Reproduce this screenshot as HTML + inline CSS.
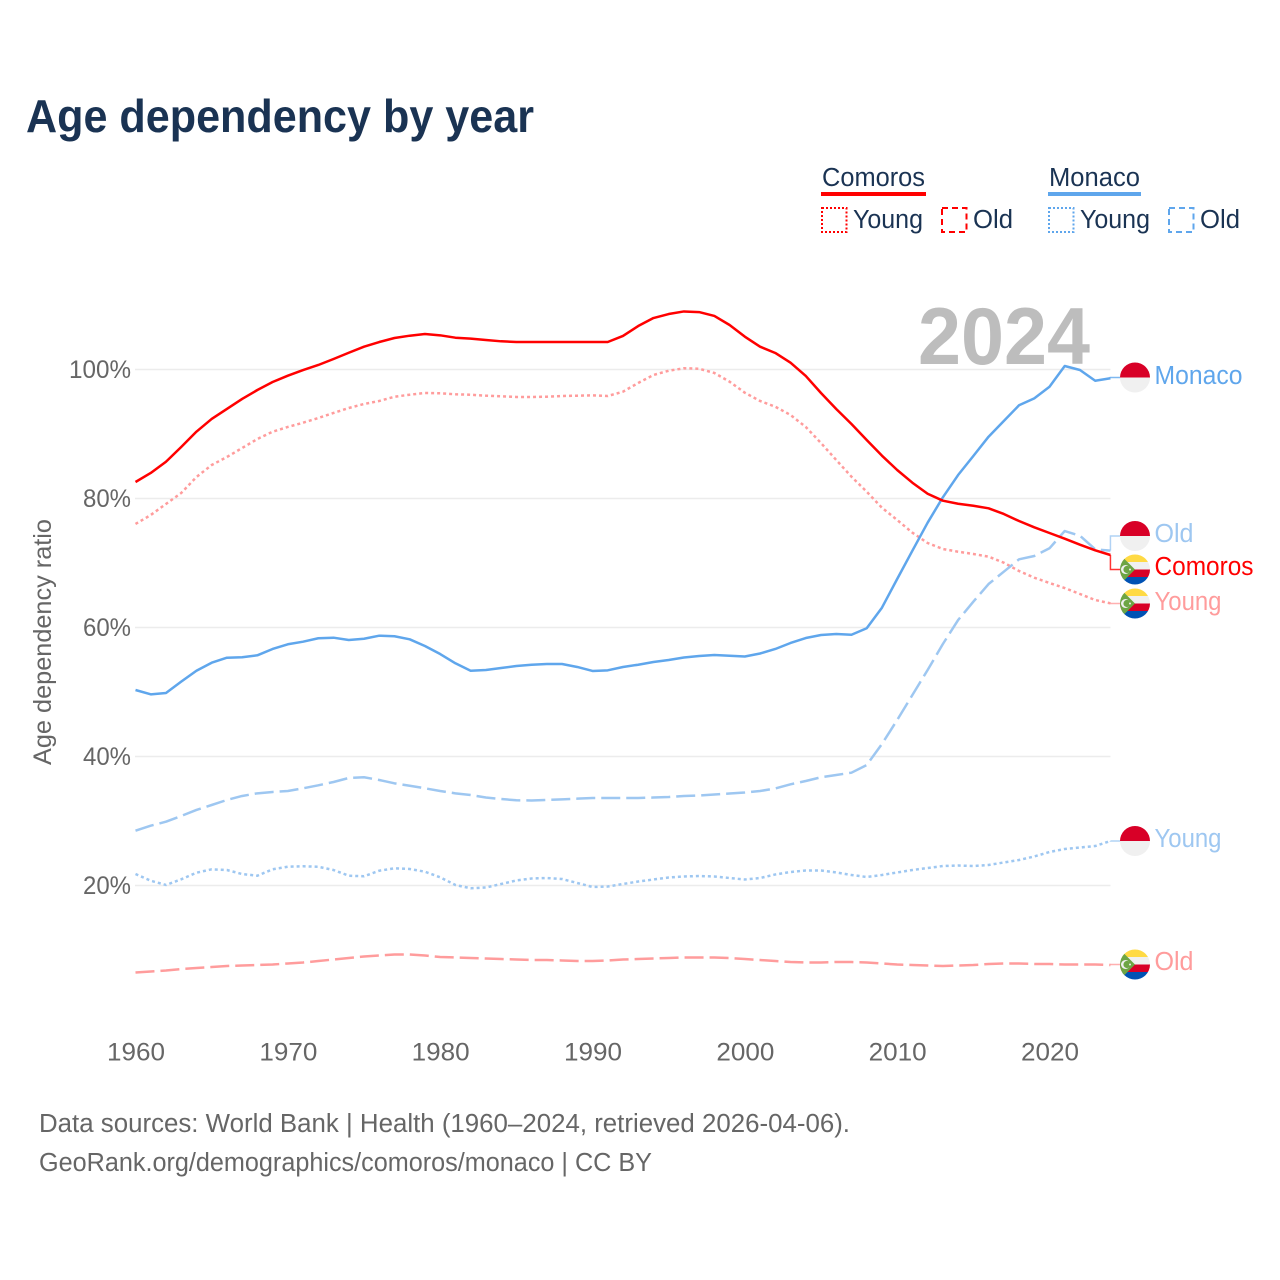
<!DOCTYPE html>
<html lang="en">
<head>
<meta charset="utf-8">
<title>Age dependency by year</title>
<style>
  html, body { margin: 0; padding: 0; background: #fff; }
  svg { display: block; font-family: "Liberation Sans", sans-serif; }
  .tick { font-size: 25px; fill: #666; }
  .leg { font-size: 25.5px; fill: #1a3353; }
  .end { font-size: 25.5px; }
  .foot { font-size: 25.5px; fill: #666; }
</style>
</head>
<body>
<svg id="chart" xmlns="http://www.w3.org/2000/svg" width="1280" height="1280" viewBox="0 0 1280 1280">
  <defs>
    <clipPath id="flag-clip"><circle cx="0" cy="0" r="15"/></clipPath>
    <g id="flag-monaco" clip-path="url(#flag-clip)">
      <rect x="-15" y="-15" width="30" height="15" fill="#d80027"/>
      <rect x="-15" y="0" width="30" height="15" fill="#f0f0f0"/>
    </g>
    <g id="flag-comoros" clip-path="url(#flag-clip)">
      <rect x="-15" y="-15" width="30" height="7.5" fill="#ffda44"/>
      <rect x="-15" y="-7.5" width="30" height="7.5" fill="#f0f0f0"/>
      <rect x="-15" y="0" width="30" height="7.5" fill="#d80027"/>
      <rect x="-15" y="7.5" width="30" height="7.5" fill="#0052b4"/>
      <polygon points="-15,-15 0,0 -15,15" fill="#6da544"/>
      <circle cx="-9.5" cy="0" r="4.5" fill="#f0f0f0"/>
      <circle cx="-8" cy="0" r="3.6" fill="#6da544"/>
      <circle cx="-5" cy="0" r="1" fill="#f0f0f0"/>
    </g>
  </defs>

  <rect width="1280" height="1280" fill="#fff"/>

  <text x="26" y="132" font-size="46" font-weight="700" fill="#1a3353" textLength="508" lengthAdjust="spacingAndGlyphs">Age dependency by year</text>

  <g>
    <text class="leg" x="822" y="186" textLength="103" lengthAdjust="spacingAndGlyphs">Comoros</text>
    <rect x="821" y="192" width="105" height="4" fill="#ff0000"/>
    <text class="leg" x="1049" y="186" textLength="91" lengthAdjust="spacingAndGlyphs">Monaco</text>
    <rect x="1048" y="192" width="93" height="4" fill="#5fa6ec"/>

    <rect x="822" y="208" width="24.5" height="24" fill="none" stroke="#ff0000" stroke-width="2" stroke-dasharray="2 2"/>
    <text class="leg" x="853" y="228" textLength="70" lengthAdjust="spacingAndGlyphs">Young</text>
    <rect x="942" y="208" width="24.5" height="24" fill="none" stroke="#ff0000" stroke-width="2" stroke-dasharray="6 4"/>
    <text class="leg" x="973" y="228" textLength="40" lengthAdjust="spacingAndGlyphs">Old</text>
    <rect x="1049" y="208" width="24.5" height="24" fill="none" stroke="#5fa6ec" stroke-width="2" stroke-dasharray="2 2"/>
    <text class="leg" x="1080" y="228" textLength="70" lengthAdjust="spacingAndGlyphs">Young</text>
    <rect x="1169" y="208" width="24.5" height="24" fill="none" stroke="#5fa6ec" stroke-width="2" stroke-dasharray="6 4"/>
    <text class="leg" x="1200" y="228" textLength="40" lengthAdjust="spacingAndGlyphs">Old</text>
  </g>

  <text x="918" y="364" font-size="81" font-weight="700" fill="#bdbdbd" textLength="172" lengthAdjust="spacingAndGlyphs">2024</text>

  <g id="grid"></g>
  <g id="ytick-labels"></g>
  <g id="xtick-labels"></g>

  <text class="tick" transform="translate(51,642) rotate(-90)" text-anchor="middle" textLength="246" lengthAdjust="spacingAndGlyphs">Age dependency ratio</text>

  <g id="series"></g>

  <g>
    <use href="#flag-monaco" x="1135" y="377.5"/>
    <use href="#flag-monaco" x="1135" y="536"/>
    <use href="#flag-comoros" x="1135" y="569.5"/>
    <use href="#flag-comoros" x="1135" y="603.5"/>
    <use href="#flag-monaco" x="1135" y="841"/>
    <use href="#flag-comoros" x="1135" y="964.5"/>
    <text class="end" x="1154.5" y="384" fill="#5fa6ec" textLength="88" lengthAdjust="spacingAndGlyphs">Monaco</text>
    <text class="end" x="1154.5" y="542" fill="#9ec7f1" textLength="39" lengthAdjust="spacingAndGlyphs">Old</text>
    <text class="end" x="1154.5" y="575" fill="#ff0000" textLength="99" lengthAdjust="spacingAndGlyphs">Comoros</text>
    <text class="end" x="1154.5" y="610" fill="#ff9c9c" textLength="67" lengthAdjust="spacingAndGlyphs">Young</text>
    <text class="end" x="1154.5" y="847" fill="#9ec7f1" textLength="67" lengthAdjust="spacingAndGlyphs">Young</text>
    <text class="end" x="1154.5" y="970" fill="#ff9c9c" textLength="39" lengthAdjust="spacingAndGlyphs">Old</text>
  </g>

  <text class="foot" x="39" y="1132" textLength="811" lengthAdjust="spacingAndGlyphs">Data sources: World Bank | Health (1960–2024, retrieved 2026-04-06).</text>
  <text class="foot" x="39" y="1171" textLength="613" lengthAdjust="spacingAndGlyphs">GeoRank.org/demographics/comoros/monaco | CC BY</text>
</svg>

<script>
const years = [1960,1961,1962,1963,1964,1965,1966,1967,1968,1969,
  1970,1971,1972,1973,1974,1975,1976,1977,1978,1979,
  1980,1981,1982,1983,1984,1985,1986,1987,1988,1989,
  1990,1991,1992,1993,1994,1995,1996,1997,1998,1999,
  2000,2001,2002,2003,2004,2005,2006,2007,2008,2009,
  2010,2011,2012,2013,2014,2015,2016,2017,2018,2019,
  2020,2021,2022,2023,2024];

const comorosTotal = [82.56,83.96,85.7,87.98,90.36,92.33,93.88,95.43,96.82,98.06,
  99.04,99.92,100.7,101.63,102.6,103.54,104.26,104.88,105.24,105.5,
  105.3,104.93,104.78,104.57,104.37,104.26,104.26,104.26,104.26,104.26,
  104.26,104.26,105.2,106.74,107.98,108.6,109.0,108.9,108.3,106.9,
  105.09,103.54,102.56,101.05,99.0,96.36,93.88,91.55,89.07,86.64,
  84.42,82.45,80.74,79.66,79.19,78.88,78.48,77.6,76.51,75.53,
  74.65,73.77,72.84,71.97,71.24];

const comorosYoung = [76.05,77.44,79.15,80.85,83.33,85.19,86.43,87.83,89.22,90.36,
  91.09,91.75,92.48,93.26,94.03,94.65,95.12,95.78,96.09,96.36,
  96.31,96.16,96.09,95.94,95.84,95.74,95.74,95.78,95.89,95.94,
  96.0,95.89,96.56,97.91,99.15,99.81,100.19,100.12,99.46,98.11,
  96.4,95.12,94.23,92.95,91.09,88.6,85.97,83.38,81.05,78.57,
  76.67,74.7,73.1,72.17,71.75,71.4,70.98,70.05,68.76,67.72,
  66.9,66.12,65.19,64.26,63.75];

const comorosOld = [6.51,6.67,6.82,7.05,7.21,7.36,7.52,7.6,7.67,7.75,
  7.91,8.06,8.29,8.53,8.76,8.99,9.15,9.3,9.3,9.15,
  8.91,8.84,8.76,8.68,8.6,8.53,8.45,8.45,8.37,8.29,
  8.29,8.37,8.53,8.6,8.68,8.76,8.84,8.84,8.84,8.76,
  8.6,8.45,8.29,8.14,8.06,8.06,8.14,8.14,8.06,7.91,
  7.75,7.67,7.6,7.52,7.6,7.67,7.83,7.91,7.91,7.83,
  7.83,7.75,7.75,7.75,7.67];

const monacoTotal = [50.31,49.64,49.84,51.6,53.3,54.54,55.32,55.38,55.69,56.67,
  57.4,57.8,58.33,58.42,58.06,58.26,58.73,58.64,58.17,57.13,
  55.89,54.45,53.3,53.41,53.72,54.03,54.23,54.34,54.34,53.88,
  53.26,53.36,53.88,54.23,54.65,54.96,55.35,55.58,55.74,55.63,
  55.5,55.97,56.67,57.6,58.37,58.84,58.99,58.88,59.88,63.07,
  67.52,71.91,76.25,80.19,83.64,86.59,89.58,92.02,94.45,95.53,
  97.33,100.54,99.92,98.26,98.64];

const monacoYoung = [21.78,20.74,20.08,20.96,21.98,22.51,22.4,21.78,21.52,22.51,
  22.91,22.98,22.91,22.4,21.52,21.43,22.29,22.67,22.56,22.14,
  21.27,20.08,19.57,19.69,20.23,20.78,21.09,21.16,21.01,20.39,
  19.77,19.84,20.23,20.62,20.93,21.24,21.4,21.47,21.4,21.16,
  20.93,21.16,21.71,22.09,22.33,22.33,22.02,21.63,21.32,21.63,
  22.02,22.4,22.71,23.02,23.1,23.02,23.18,23.57,23.95,24.5,
  25.19,25.66,25.89,26.12,26.9];

const monacoOld = [28.5,29.27,29.89,30.78,31.71,32.48,33.26,33.88,34.29,34.5,
  34.65,35.07,35.53,36.05,36.67,36.78,36.36,35.84,35.47,35.07,
  34.65,34.29,34.03,33.64,33.41,33.21,33.18,33.26,33.36,33.46,
  33.57,33.57,33.57,33.57,33.64,33.72,33.88,33.95,34.11,34.26,
  34.42,34.65,35.04,35.69,36.2,36.78,37.13,37.49,38.68,41.94,
  45.66,49.53,53.41,57.44,61.16,64.0,66.74,68.65,70.57,71.09,
  72.28,74.96,74.23,72.12,71.91];

const xTickYears = [1960,1970,1980,1990,2000,2010,2020];
const yTickValues = [20,40,60,80,100];
const yTickLabels = ["20%","40%","60%","80%","100%"];

const NS = "http://www.w3.org/2000/svg";
function xScale(year) { return 135.5 + (year - 1960) * (1049.5 - 135.5) / 60; }
function yScale(value) { return 1014.5 - value * 6.45; }

const gridGroup = document.getElementById("grid");
const yTickGroup = document.getElementById("ytick-labels");
const xTickGroup = document.getElementById("xtick-labels");
const seriesGroup = document.getElementById("series");

yTickValues.forEach(function (value, i) {
  const line = document.createElementNS(NS, "line");
  
  
  line.setAttribute("x1", 135);
  line.setAttribute("x2", xScale(2024));
  line.setAttribute("y1", yScale(value));
  line.setAttribute("y2", yScale(value));
  line.setAttribute("stroke", "#ececec");
  line.setAttribute("stroke-width", 1.5);
  gridGroup.appendChild(line);

  const label = document.createElementNS(NS, "text");
  
  
  label.setAttribute("class", "tick");
  label.setAttribute("x", 131);
  label.setAttribute("y", yScale(value) + 8.5);
  label.setAttribute("text-anchor", "end");
  label.setAttribute("textLength", yTickLabels[i].length === 4 ? 62 : 48);
  label.setAttribute("lengthAdjust", "spacingAndGlyphs");
  label.textContent = yTickLabels[i];
  yTickGroup.appendChild(label);
});

xTickYears.forEach(function (year) {
  const label = document.createElementNS(NS, "text");
  
  
  label.setAttribute("class", "tick");
  label.setAttribute("x", xScale(year) + 0.5);
  label.setAttribute("y", 1060.5);
  label.setAttribute("text-anchor", "middle");
  label.setAttribute("textLength", 58);
  label.setAttribute("lengthAdjust", "spacingAndGlyphs");
  label.textContent = String(year);
  xTickGroup.appendChild(label);
});

function linePath(values) {
  return values.map(function (v, i) {
    return (i ? "L" : "M") + xScale(years[i]).toFixed(2) + " " + yScale(v).toFixed(2);
  }).join(" ");
}

function drawLine(values, color, dash, name) {
  const path = document.createElementNS(NS, "path");
  
  
  path.setAttribute("d", linePath(values));
  path.setAttribute("fill", "none");
  path.setAttribute("stroke", color);
  path.setAttribute("stroke-width", 2.5);
  path.setAttribute("stroke-linejoin", "round");
  if (dash) path.setAttribute("stroke-dasharray", dash);
  seriesGroup.appendChild(path);
}

function drawConnector(values, markerY, color, name) {
  const x0 = xScale(2024);
  const path = document.createElementNS(NS, "path");
  
  
  const y0 = yScale(values[values.length - 1]);
  path.setAttribute("d", "M" + x0 + " " + y0 + " V" + markerY + " H1122");
  path.setAttribute("fill", "none");
  path.setAttribute("stroke", color);
  path.setAttribute("stroke-width", 1.5);
  path.setAttribute("opacity", 0.8);
  seriesGroup.appendChild(path);
}

drawConnector(monacoTotal, 377.5, "#5fa6ec", "connector-monaco");
drawConnector(monacoOld, 536, "#9ec7f1", "connector-monaco-old");
drawConnector(comorosTotal, 569.5, "#ff0000", "connector-comoros");
drawConnector(comorosYoung, 603.5, "#ff9c9c", "connector-comoros-young");
drawConnector(monacoYoung, 841, "#9ec7f1", "connector-monaco-young");
drawConnector(comorosOld, 964.5, "#ff9c9c", "connector-comoros-old");

drawLine(comorosOld, "#ff9c9c", "19 6", "line-comoros-old");
drawLine(comorosYoung, "#ff9c9c", "3 3", "line-comoros-young");
drawLine(monacoYoung, "#9ec7f1", "3 3", "line-monaco-young");
drawLine(monacoOld, "#9ec7f1", "19 6", "line-monaco-old");
drawLine(monacoTotal, "#5fa6ec", null, "line-monaco-total");
drawLine(comorosTotal, "#ff0000", null, "line-comoros-total");
</script>
</body>
</html>
